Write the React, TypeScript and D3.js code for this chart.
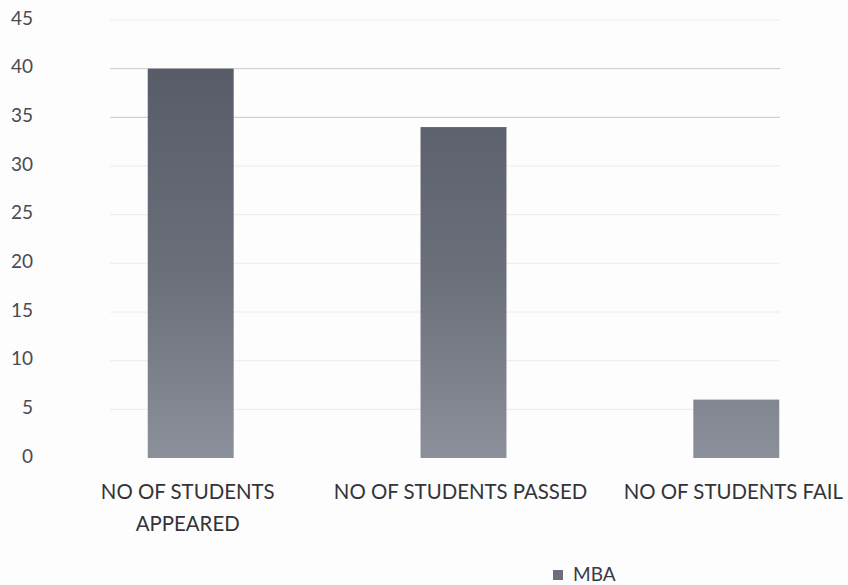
import React, { useEffect, useRef } from 'react'
import * as d3 from 'd3'

const categories = ['NO OF STUDENTS APPEARED', 'NO OF STUDENTS PASSED', 'NO OF STUDENTS FAIL']
const categoryLines = [['NO OF STUDENTS', 'APPEARED'], ['NO OF STUDENTS PASSED'], ['NO OF STUDENTS FAIL']]
const mbaValues = [40, 34, 6]
const yTicks = [0, 5, 10, 15, 20, 25, 30, 35, 40, 45]
const seriesName = 'MBA'

function App() {
    const svgRef = useRef<SVGSVGElement>(null)

    useEffect(() => {
        const width = 848
        const height = 585
        const font = 'Lato, "Open Sans", sans-serif'
        const svg = d3.select(svgRef.current)
        svg.selectAll('*').remove()
        svg.attr('width', width).attr('height', height).style('background', '#fdfdfd')

        const xScale = d3.scaleBand()
            .domain(categories)
            .range([55, 872])
            .paddingInner(0.685)
            .paddingOuter(0.34)

        const yScale = d3.scaleLinear()
            .domain([0, 45])
            .range([458, 20])

        const defs = svg.append('defs')
        const grad = defs.append('linearGradient')
            .attr('id', 'barGrad')
            .attr('gradientUnits', 'userSpaceOnUse')
            .attr('x1', 0).attr('x2', 0)
            .attr('y1', yScale(40)).attr('y2', yScale(0))
        grad.append('stop').attr('offset', '0%').attr('stop-color', '#575c68')
        grad.append('stop').attr('offset', '55%').attr('stop-color', '#6b707b')
        grad.append('stop').attr('offset', '100%').attr('stop-color', '#8b909a')

        // gridlines
        svg.append('g')
            .selectAll('line')
            .data(yTicks.filter((t) => t > 0))
            .join('line')
            .attr('x1', 110)
            .attr('x2', 780)
            .attr('y1', (d) => yScale(d))
            .attr('y2', (d) => yScale(d))
            .attr('stroke', (d) => (d === 40 || d === 35 ? '#c8c8c8' : '#ececec'))
            .attr('stroke-width', 1)

        const yAxis = d3.axisLeft(yScale).tickValues(yTicks).tickSize(0).tickPadding(0)
        const gy = svg.append('g')
            .attr('transform', 'translate(33, -2)')
            .call(yAxis)
        gy.select('.domain').remove()
        gy.selectAll('text')
            .attr('font-family', font)
            .attr('font-size', 19)
            .attr('fill', '#4a4a52')

        // bars
        svg.append('g')
            .selectAll('rect')
            .data(mbaValues)
            .join('rect')
            .attr('x', (d, i) => xScale(categories[i]) as number)
            .attr('width', xScale.bandwidth())
            .attr('y', (d) => yScale(d))
            .attr('height', (d) => yScale(0) - yScale(d))
            .attr('fill', 'url(#barGrad)')

        // category labels
        const labels = svg.append('g')
            .selectAll('text')
            .data(categories)
            .join('text')
            .attr('x', (d) => (xScale(d) as number) + xScale.bandwidth() / 2 - 3)
            .attr('y', 499)
            .attr('text-anchor', 'middle')
            .attr('font-family', font)
            .attr('font-size', 20.4)
            .attr('fill', '#333338')
        labels.selectAll('tspan')
            .data((d, i) => categoryLines[i])
            .join('tspan')
            .attr('x', function () {
                return d3.select((this as any).parentNode).attr('x')
            })
            .attr('dy', (d, i) => (i === 0 ? 0 : 32))
            .text((d) => d)

        // legend
        const legend = svg.append('g').attr('transform', 'translate(553, 581)')
        legend.append('rect')
            .attr('x', 0).attr('y', -11).attr('width', 10).attr('height', 10)
            .attr('fill', '#6a6f78')
        legend.append('text')
            .attr('x', 20)
            .attr('y', 0)
            .attr('font-family', font)
            .attr('font-size', 19)
            .attr('fill', '#3a3a44')
            .text(seriesName)
    }, [])

    return (
        <div style={{ position: 'fixed', top: 0, left: 0 }}>
            <svg ref={svgRef}></svg>
        </div>
    )
}

export default App
